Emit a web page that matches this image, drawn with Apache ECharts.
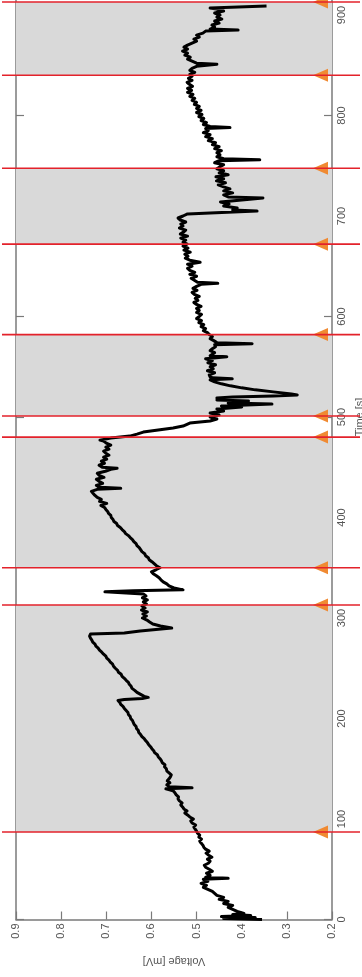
<!DOCTYPE html>
<html>
<head>
<meta charset="utf-8">
<script src="https://cdn.jsdelivr.net/npm/echarts@6/dist/echarts.min.js"></script>
<style>
html,body{margin:0;padding:0;background:#fff;}
#chart{width:362px;height:977px;}
</style>
</head>
<body>
<div id="chart"></div>
<script>
// Event times [s] (red lines / orange markers)
const eventTimes = [87, 313, 350, 480, 501, 582, 672, 747.5, 840, 913];
// Shaded time intervals [s]
const shadedBands = [[87, 313], [350, 480], [501, 582], [672, 747.5], [840, 913]];
// Axis ranges
const timeRange = [0, 1000, 100];
const voltRange = [0.2, 0.9, 0.1];
// Voltage trace: [time s, voltage mV]
const voltageTrace = [
[0,0.355],[1,0.44],[2,0.37],[3,0.445],[4,0.38],[5,0.42],[6,0.395],[8,0.41],[10,0.42],[12,0.43],[14,0.42],[16,0.44],[18,0.43],[20,0.45],[22,0.44],[24,0.455],[26,0.46],[28,0.465],[30,0.475],[32,0.485],[34,0.478],[36,0.49],[38,0.475],[40,0.485],[41,0.43],[42,0.48],[44,0.47],[46,0.478],[48,0.465],[50,0.472],[52,0.48],[54,0.483],[56,0.474],[58,0.47],[60,0.476],[62,0.466],[64,0.473],[66,0.479],[68,0.472],[70,0.48],[72,0.484],[74,0.486],[76,0.49],[78,0.493],[80,0.489],[82,0.495],[84,0.493],[86,0.498],[88,0.5],[90,0.503],
[92,0.506],[94,0.502],[96,0.51],[98,0.513],[100,0.507],[102,0.515],[104,0.52],[106,0.526],[108,0.521],[110,0.528],[112,0.531],[114,0.535],[116,0.532],[118,0.538],[120,0.541],[122,0.54],[124,0.545],[126,0.548],[128,0.552],[130,0.568],[131,0.51],[132,0.56],[134,0.566],[136,0.559],[138,0.565],[140,0.561],[142,0.558],[144,0.556],
[146,0.561],[148,0.566],[150,0.567],[152,0.571],[154,0.57],[156,0.576],[158,0.578],[160,0.581],[162,0.585],[164,0.587],[166,0.593],[168,0.595],[170,0.599],[172,0.602],[174,0.606],[176,0.609],[178,0.613],[180,0.616],[182,0.621],[184,0.624],[186,0.628],[188,0.629],[190,0.633],[192,0.634],[194,0.638],[196,0.64],[198,0.642],[200,0.646],[202,0.647],[204,0.651],[206,0.652],[208,0.656],[210,0.66],[212,0.663],[214,0.668],[216,0.67],[218,0.674],
[219,0.66],[220,0.62],[221,0.607],[222,0.616],[224,0.624],[226,0.632],[228,0.637],[230,0.643],[232,0.645],[234,0.649],[236,0.651],[238,0.656],[240,0.66],[242,0.665],[244,0.667],[246,0.673],[248,0.675],[250,0.68],[252,0.684],[254,0.686],[256,0.691],[258,0.694],[260,0.699],[262,0.701],[264,0.706],[266,0.71],[268,0.715],[270,0.718],[272,0.723],[274,0.725],[276,0.73],[278,0.732],[280,0.735],[282,0.737],[284,0.735],[285,0.66],[287,0.625],[290,0.555],[292,0.58],[294,0.597],[296,0.604],[298,0.61],
[300,0.62],[302,0.611],[304,0.619],[306,0.609],[308,0.622],[310,0.614],[312,0.621],[314,0.611],[316,0.618],[318,0.609],[320,0.62],[322,0.612],[324,0.618],[326,0.703],[327,0.64],[328,0.53],[330,0.55],[332,0.561],[334,0.566],[336,0.574],[338,0.579],[340,0.583],[342,0.589],[344,0.596],[346,0.6],[348,0.59],[350,0.581],
[352,0.589],[354,0.594],[356,0.599],[358,0.605],[360,0.607],[362,0.613],[364,0.615],[366,0.621],[368,0.624],[370,0.627],[372,0.632],[374,0.634],[376,0.639],[378,0.642],[380,0.647],[382,0.651],[384,0.657],[386,0.66],[388,0.665],[390,0.669],[392,0.675],[394,0.677],[396,0.683],[398,0.685],[400,0.689],[402,0.69],[404,0.695],[406,0.697],[408,0.701],[410,0.704],[412,0.712],[414,0.699],[416,0.715],[418,0.711],[420,0.72],[422,0.725],[424,0.729],[426,0.733],[428,0.72],[429,0.668],[430,0.714],[432,0.722],[434,0.708],[436,0.716],[438,0.722],[440,0.705],[442,0.716],[444,0.72],[446,0.702],[448,0.69],[449,0.676],[450,0.709],[452,0.716],[454,0.704],[456,0.711],[458,0.699],[460,0.706],[462,0.694],[464,0.701],[466,0.706],[468,0.694],[470,0.701],[472,0.69],[474,0.7],[476,0.706],[477,0.714],
[479,0.69],[481,0.648],[483,0.632],[485,0.618],[487,0.585],[489,0.552],[491,0.53],[493,0.52],[494,0.515],[496,0.47],[498,0.455],[500,0.47],
[502,0.45],[504,0.47],[506,0.44],[508,0.455],[510,0.40],[511,0.445],[513,0.333],[514,0.43],[516,0.385],[517,0.455],[518,0.44],[519,0.455],[520,0.42],[521,0.33],[522,0.277],[523,0.29],[525,0.33],[527,0.37],[529,0.40],[531,0.425],[533,0.445],[535,0.46],[537,0.47],[538,0.421],[539,0.465],[540,0.47],
[542,0.472],[544,0.46],[546,0.476],[548,0.463],[550,0.47],[552,0.458],[554,0.475],[556,0.465],[558,0.48],[560,0.433],[561,0.47],[562,0.474],[564,0.46],[566,0.47],[568,0.465],[570,0.458],[572,0.46],[573,0.377],[574,0.455],[576,0.462],[578,0.47],[580,0.465],[582,0.472],[584,0.476],[586,0.485],[588,0.48],[590,0.49],[592,0.484],[594,0.495],[596,0.489],[598,0.5],[600,0.494],[602,0.489],[604,0.5],[606,0.494],
[608,0.5],[610,0.49],[612,0.5],[614,0.506],[616,0.497],[618,0.503],[620,0.494],[622,0.505],[624,0.51],[626,0.499],[628,0.508],[630,0.5],[632,0.49],[633,0.453],[634,0.498],[636,0.505],[638,0.512],[640,0.5],[642,0.515],[644,0.504],[646,0.515],[648,0.52],[650,0.51],[652,0.52],[654,0.492],[656,0.515],[658,0.525],[660,0.519],[662,0.526],[664,0.514],[666,0.528],[668,0.519],[670,0.53],[672,0.521],[674,0.53],[676,0.524],[678,0.535],[680,0.52],[682,0.536],[684,0.529],[686,0.524],[688,0.538],[690,0.53],[692,0.535],[694,0.524],[696,0.536],[698,0.541],[700,0.53],[702,0.52],
[703,0.47],[705,0.366],[706,0.42],[708,0.41],[710,0.44],[712,0.428],[714,0.447],[716,0.4],[718,0.353],[719,0.43],[721,0.44],[723,0.42],[725,0.44],[727,0.426],[729,0.44],[731,0.452],[733,0.436],[735,0.456],[737,0.44],[739,0.457],[741,0.43],[743,0.45],[745,0.44],[747,0.455],[749,0.448],[751,0.44],[753,0.46],[755,0.45],[756,0.36],[757,0.44],[759,0.455],[761,0.448],[763,0.455],
[765,0.445],[767,0.46],[769,0.45],[771,0.465],[773,0.458],[775,0.474],[777,0.465],[779,0.48],[781,0.47],[783,0.485],[785,0.474],[787,0.48],[788,0.426],[789,0.47],[791,0.485],[793,0.478],[795,0.49],[797,0.484],[799,0.495],[801,0.488],[803,0.5],[805,0.49],[807,0.5],[809,0.494],[811,0.505],[813,0.5],[815,0.51],[817,0.504],[819,0.515],[821,0.508],[823,0.52],[825,0.511],[827,0.52],[829,0.509],[831,0.516],[833,0.521],[835,0.51],[837,0.518],[839,0.51],[841,0.515],[843,0.504],[845,0.515],[847,0.51],[849,0.5],[851,0.455],[852,0.5],[854,0.51],[856,0.52],[858,0.514],[860,0.526],[862,0.52],[864,0.531],[866,0.52],[868,0.528],[870,0.52],[872,0.51],[874,0.5],[876,0.506],[878,0.494],[880,0.5],[882,0.486],[884,0.48],[885,0.408],[886,0.47],[888,0.46],[890,0.466],[892,0.45],[894,0.46],[896,0.444],[898,0.455],[900,0.448],[902,0.46],[904,0.44],[906,0.456],[907,0.47],[909,0.345]
];

const chart = echarts.init(document.getElementById('chart'), null, {renderer: 'canvas'});
const axisCol = '#7a7a7a';
const labelCol = '#555';
const fontFam = 'Liberation Sans, Arial, sans-serif';

const timeAxisBase = {
  type: 'value', min: timeRange[0], max: timeRange[1], interval: timeRange[2],
  axisLine: {show: true, lineStyle: {color: axisCol, width: 1.5}},
  axisTick: {show: true, inside: true, length: 8, lineStyle: {color: axisCol, width: 1.2}},
  splitLine: {show: false}
};

chart.setOption({
  animation: false,
  backgroundColor: '#fff',
  grid: {left: 16, right: 30, top: -85.5, bottom: 57.5, outerBoundsMode: 'none', containLabel: false},
  xAxis: {
    type: 'value', min: voltRange[0], max: voltRange[1], interval: voltRange[2], inverse: true,
    position: 'bottom',
    name: 'Voltage [mV]', nameLocation: 'middle', nameGap: 36, nameRotate: 180,
    nameTextStyle: {color: labelCol, fontSize: 11, fontFamily: fontFam},
    axisLine: {show: true, lineStyle: {color: axisCol, width: 1.5}},
    axisTick: {show: true, inside: true, length: 8, lineStyle: {color: axisCol, width: 1.2}},
    axisLabel: {rotate: 90, margin: 4, color: labelCol, fontSize: 11, fontFamily: fontFam,
      formatter: v => v.toFixed(1)},
    splitLine: {show: false}
  },
  yAxis: [
    Object.assign({}, timeAxisBase, {
      position: 'right',
      name: 'Time [s]', nameLocation: 'middle', nameGap: 17, nameRotate: 90,
      nameTextStyle: {color: labelCol, fontSize: 11, fontFamily: fontFam},
      axisLabel: {rotate: 90, margin: 4, color: labelCol, fontSize: 11, fontFamily: fontFam,
        formatter: v => (Math.round(v) % 100 === 0 ? String(Math.round(v)) : '')}
    }),
    Object.assign({}, timeAxisBase, {
      position: 'left',
      axisLabel: {show: false}
    })
  ],
  series: [
    {
      type: 'line',
      xAxisIndex: 0, yAxisIndex: 0,
      data: voltageTrace.map(p => [p[1], p[0]]),
      showSymbol: false,
      symbol: 'none',
      lineStyle: {color: '#000', width: 3, join: 'round'},
      z: 3,
      markArea: {
        silent: true,
        itemStyle: {color: '#d9d9d9'},
        data: shadedBands.map(b => [{yAxis: b[0]}, {yAxis: b[1]}])
      }
    },
    {
      type: 'custom',
      xAxisIndex: 0, yAxisIndex: 0,
      coordinateSystem: 'cartesian2d',
      clip: false,
      z: 5,
      data: eventTimes.map(t => [0.5, t]),
      renderItem: function (params, api) {
        const y = api.coord([api.value(0), api.value(1)])[1];
        return {
          type: 'group',
          children: [
            {type: 'polygon', shape: {points: [[313, y], [328, y - 6.5], [328, y + 6.5]]},
             style: {fill: '#f08a32'}},
            {type: 'line', shape: {x1: 2, y1: y, x2: 360, y2: y},
             style: {stroke: '#e3222b', lineWidth: 1.6}}
          ]
        };
      }
    }
  ]
});
</script>
</body>
</html>
